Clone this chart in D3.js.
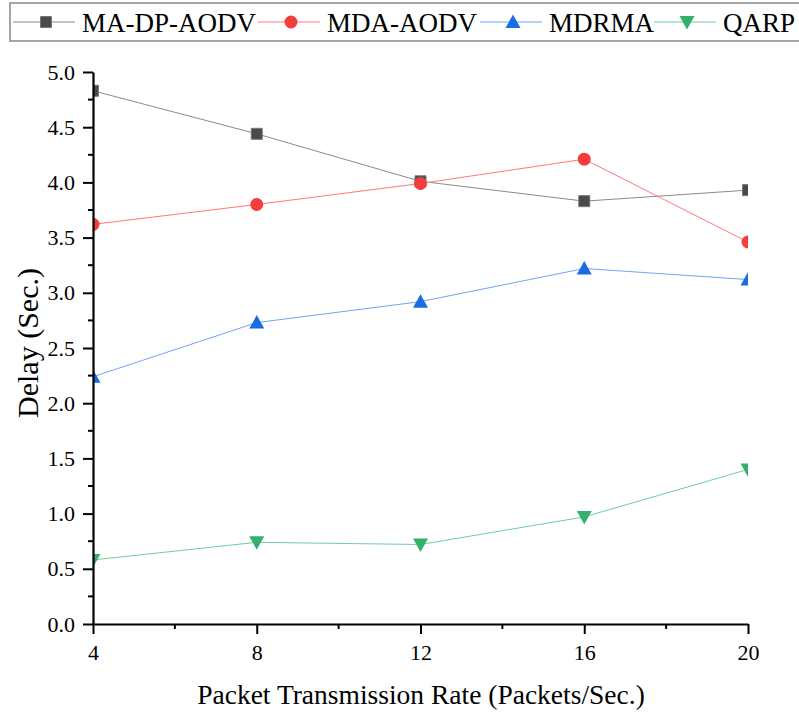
<!DOCTYPE html>
<html>
<head>
<meta charset="utf-8">
<script src="https://cdn.jsdelivr.net/npm/d3@7"></script>
<style>
  html, body { margin: 0; padding: 0; background: #fff; }
  svg { display: block; font-family: "Liberation Serif", "Times New Roman", serif; }
</style>
</head>
<body>
<svg id="chart" width="799" height="712"></svg>
<script>
// Packet transmission rate (Packets/Sec.)
const rates = [4, 8, 12, 16, 20];
const xTicks = [4, 8, 12, 16, 20];
const yTicks = [0, 0.5, 1.0, 1.5, 2.0, 2.5, 3.0, 3.5, 4.0, 4.5, 5.0];

// Delay (Sec.) per protocol
const maDpAodv = [4.83, 4.44, 4.01, 3.83, 3.93];
const mdaAodv  = [3.62, 3.80, 3.99, 4.21, 3.46];
const mdrma    = [2.24, 2.73, 2.92, 3.22, 3.12];
const qarp     = [0.58, 0.74, 0.72, 0.97, 1.40];

const seriesNames = ["MA-DP-AODV", "MDA-AODV", "MDRMA", "QARP"];

const series = [
  { name: seriesNames[0], values: maDpAodv, symbol: "square",  fill: "#4a4a4a", line: "#8a8a8a" },
  { name: seriesNames[1], values: mdaAodv,  symbol: "circle",  fill: "#f43d3d", line: "#ff7a7a" },
  { name: seriesNames[2], values: mdrma,    symbol: "triUp",   fill: "#1a6de0", line: "#70a6f0" },
  { name: seriesNames[3], values: qarp,     symbol: "triDown", fill: "#33b06b", line: "#70cf98" }
];

const svg = d3.select("#chart");
const plot = { left: 93, right: 748, top: 72, bottom: 624 };

const x = d3.scaleLinear().domain([4, 20]).range([plot.left, plot.right]);
const y = d3.scaleLinear().domain([0, 5]).range([plot.bottom, plot.top]);

// clip markers and lines to the plot area
svg.append("defs").append("clipPath").attr("id", "plotClip")
  .append("rect")
  .attr("x", plot.left).attr("y", plot.top - 30)
  .attr("width", plot.right - plot.left).attr("height", plot.bottom - plot.top + 30);

function symbolPath(kind, cx, cy) {
  if (kind === "square") {
    const h = 5.5;
    return `M${cx - h},${cy - h}H${cx + h}V${cy + h}H${cx - h}Z`;
  }
  if (kind === "circle") {
    const r = 6.5;
    return `M${cx - r},${cy}A${r},${r} 0 1,0 ${cx + r},${cy}A${r},${r} 0 1,0 ${cx - r},${cy}Z`;
  }
  if (kind === "triUp") {
    return `M${cx},${cy - 7.5}L${cx + 7.5},${cy + 6}L${cx - 7.5},${cy + 6}Z`;
  }
  return `M${cx},${cy + 7.5}L${cx + 7.5},${cy - 6}L${cx - 7.5},${cy - 6}Z`;
}

const plotG = svg.append("g").attr("clip-path", "url(#plotClip)");
const line = d3.line().x((d, i) => x(rates[i])).y(d => y(d));

series.forEach(s => {
  plotG.append("path")
    .attr("d", line(s.values))
    .attr("fill", "none")
    .attr("stroke", s.line)
    .attr("stroke-width", 1);
});
series.forEach(s => {
  plotG.selectAll(null).data(s.values).enter().append("path")
    .attr("d", (d, i) => symbolPath(s.symbol, x(rates[i]), y(d)))
    .attr("fill", s.fill)
    .attr("stroke", s.symbol === "square" ? "#777" : "none")
    .attr("stroke-width", 1);
});

// axes
const xMinor = [6, 10, 14, 18];
const yMinor = d3.range(0.25, 5, 0.5);

const xAxis = svg.append("g").attr("transform", `translate(0,${plot.bottom})`)
  .call(d3.axisBottom(x).tickValues(xTicks).tickFormat(d3.format("d")).tickSize(10).tickSizeOuter(0));
xAxis.select(".domain").attr("stroke", "#000").attr("stroke-width", 2.2);
xAxis.selectAll(".tick line").attr("stroke", "#000").attr("stroke-width", 2);
xAxis.selectAll(".tick text").attr("font-size", 22).attr("font-family", "Liberation Serif, serif")
  .attr("fill", "#000").attr("dy", "1.05em");
xAxis.selectAll(null).data(xMinor).enter().append("line")
  .attr("x1", d => x(d)).attr("x2", d => x(d)).attr("y1", 0).attr("y2", 5)
  .attr("stroke", "#000").attr("stroke-width", 2);

const yAxis = svg.append("g").attr("transform", `translate(${plot.left},0)`)
  .call(d3.axisLeft(y).tickValues(yTicks).tickFormat(d3.format(".1f")).tickSize(10).tickSizeOuter(0));
yAxis.select(".domain").attr("stroke", "#000").attr("stroke-width", 2.2);
yAxis.selectAll(".tick line").attr("stroke", "#000").attr("stroke-width", 2);
yAxis.selectAll(".tick text").attr("font-size", 22).attr("font-family", "Liberation Serif, serif")
  .attr("fill", "#000").attr("x", -18);
yAxis.selectAll(null).data(yMinor).enter().append("line")
  .attr("x1", 0).attr("x2", -5).attr("y1", d => y(d)).attr("y2", d => y(d))
  .attr("stroke", "#000").attr("stroke-width", 2);

// axis titles
svg.append("text")
  .attr("x", 421).attr("y", 704)
  .attr("text-anchor", "middle").attr("font-size", 27.5)
  .text("Packet Transmission Rate (Packets/Sec.)");

svg.append("text")
  .attr("transform", `translate(38,343) rotate(-90)`)
  .attr("text-anchor", "middle").attr("font-size", 30)
  .text("Delay (Sec.)");

// legend
const legend = svg.append("g");
legend.append("rect")
  .attr("x", 10).attr("y", 3).attr("width", 795).attr("height", 38)
  .attr("fill", "#fff").attr("stroke", "#888").attr("stroke-width", 1.5);

const legendX = [13, 258, 480, 654];
series.forEach((s, i) => {
  const lx = legendX[i];
  const ly = 22;
  const g = legend.append("g");
  g.append("line").attr("x1", lx).attr("x2", lx + 62).attr("y1", ly).attr("y2", ly)
    .attr("stroke", s.line).attr("stroke-width", 1);
  g.append("path").attr("d", symbolPath(s.symbol, lx + 33, ly))
    .attr("fill", s.fill)
    .attr("stroke", s.symbol === "square" ? "#777" : "none");
  g.append("text").attr("x", lx + 69).attr("y", ly + 10)
    .attr("font-size", 27).attr("fill", "#000").text(s.name);
});
</script>
</body>
</html>
